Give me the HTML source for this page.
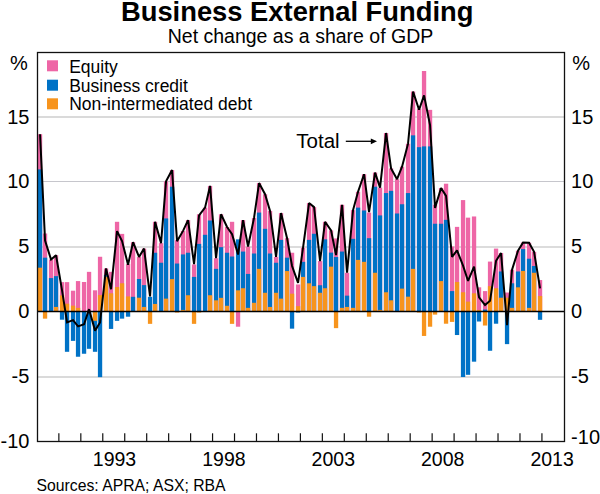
<!DOCTYPE html>
<html><head><meta charset="utf-8"><style>
html,body{margin:0;padding:0;background:#fff;}
body{width:600px;height:494px;overflow:hidden;font-family:"Liberation Sans",sans-serif;}
svg{display:block;}
</style></head><body>
<svg width="600" height="494" viewBox="0 0 600 494">
<rect width="600" height="494" fill="#fff"/>
<rect x="37.5" y="116" width="527.00" height="2" fill="#dadada"/>
<rect x="37.5" y="181" width="527.00" height="1" fill="#c6c6cc"/>
<rect x="37.5" y="246" width="527.00" height="2" fill="#dcdcdc"/>
<rect x="37.5" y="376" width="527.00" height="2" fill="#dadada"/>
<rect x="37.90" y="134.18" width="4.3" height="177.32" fill="#EE66A6"/>
<rect x="37.90" y="169.41" width="4.3" height="142.09" fill="#0072C6"/>
<rect x="37.90" y="267.69" width="4.3" height="43.81" fill="#F7941D"/>
<rect x="42.90" y="233.50" width="4.3" height="78.00" fill="#EE66A6"/>
<rect x="42.90" y="257.68" width="4.3" height="53.82" fill="#0072C6"/>
<rect x="42.90" y="311.5" width="4.3" height="7.15" fill="#F7941D"/>
<rect x="48.90" y="259.50" width="4.3" height="52.00" fill="#EE66A6"/>
<rect x="48.90" y="278.09" width="4.3" height="33.41" fill="#0072C6"/>
<rect x="53.90" y="255.21" width="4.3" height="56.29" fill="#EE66A6"/>
<rect x="53.90" y="276.14" width="4.3" height="35.36" fill="#0072C6"/>
<rect x="53.90" y="306.95" width="4.3" height="4.55" fill="#F7941D"/>
<rect x="59.90" y="282.12" width="4.3" height="29.38" fill="#EE66A6"/>
<rect x="59.90" y="295.38" width="4.3" height="16.12" fill="#F7941D"/>
<rect x="59.90" y="311.5" width="4.3" height="8.19" fill="#0072C6"/>
<rect x="64.90" y="282.12" width="4.3" height="29.38" fill="#EE66A6"/>
<rect x="64.90" y="303.70" width="4.3" height="7.80" fill="#F7941D"/>
<rect x="64.90" y="311.5" width="4.3" height="40.30" fill="#0072C6"/>
<rect x="70.90" y="290.70" width="4.3" height="20.80" fill="#EE66A6"/>
<rect x="70.90" y="305.65" width="4.3" height="5.85" fill="#F7941D"/>
<rect x="70.90" y="311.5" width="4.3" height="29.38" fill="#0072C6"/>
<rect x="75.90" y="281.08" width="4.3" height="30.42" fill="#EE66A6"/>
<rect x="75.90" y="307.86" width="4.3" height="3.64" fill="#F7941D"/>
<rect x="75.90" y="311.5" width="4.3" height="45.24" fill="#0072C6"/>
<rect x="81.90" y="281.99" width="4.3" height="29.51" fill="#EE66A6"/>
<rect x="81.90" y="311.5" width="4.3" height="42.25" fill="#0072C6"/>
<rect x="86.90" y="271.85" width="4.3" height="39.65" fill="#EE66A6"/>
<rect x="86.90" y="311.5" width="4.3" height="37.31" fill="#0072C6"/>
<rect x="92.90" y="290.31" width="4.3" height="21.19" fill="#EE66A6"/>
<rect x="92.90" y="311.5" width="4.3" height="40.30" fill="#0072C6"/>
<rect x="92.90" y="311.5" width="4.3" height="9.36" fill="#F7941D"/>
<rect x="97.90" y="256.77" width="4.3" height="54.73" fill="#EE66A6"/>
<rect x="97.90" y="295.12" width="4.3" height="16.38" fill="#F7941D"/>
<rect x="97.90" y="311.5" width="4.3" height="65.65" fill="#0072C6"/>
<rect x="103.90" y="268.47" width="4.3" height="43.03" fill="#EE66A6"/>
<rect x="103.90" y="274.97" width="4.3" height="36.53" fill="#0072C6"/>
<rect x="103.90" y="276.79" width="4.3" height="34.71" fill="#F7941D"/>
<rect x="108.90" y="271.85" width="4.3" height="39.65" fill="#EE66A6"/>
<rect x="108.90" y="293.30" width="4.3" height="18.20" fill="#F7941D"/>
<rect x="108.90" y="311.5" width="4.3" height="17.42" fill="#0072C6"/>
<rect x="114.90" y="221.80" width="4.3" height="89.70" fill="#EE66A6"/>
<rect x="114.90" y="287.06" width="4.3" height="24.44" fill="#F7941D"/>
<rect x="114.90" y="311.5" width="4.3" height="9.36" fill="#0072C6"/>
<rect x="119.90" y="233.89" width="4.3" height="77.61" fill="#EE66A6"/>
<rect x="119.90" y="283.29" width="4.3" height="28.21" fill="#F7941D"/>
<rect x="119.90" y="311.5" width="4.3" height="7.15" fill="#0072C6"/>
<rect x="125.90" y="264.05" width="4.3" height="47.45" fill="#EE66A6"/>
<rect x="125.90" y="296.42" width="4.3" height="15.08" fill="#F7941D"/>
<rect x="125.90" y="311.5" width="4.3" height="5.20" fill="#0072C6"/>
<rect x="130.90" y="242.21" width="4.3" height="69.29" fill="#EE66A6"/>
<rect x="130.90" y="296.81" width="4.3" height="14.69" fill="#0072C6"/>
<rect x="136.90" y="256.90" width="4.3" height="54.60" fill="#EE66A6"/>
<rect x="136.90" y="279.00" width="4.3" height="32.50" fill="#0072C6"/>
<rect x="136.90" y="297.72" width="4.3" height="13.78" fill="#F7941D"/>
<rect x="141.90" y="248.58" width="4.3" height="62.92" fill="#EE66A6"/>
<rect x="141.90" y="285.11" width="4.3" height="26.39" fill="#0072C6"/>
<rect x="141.90" y="306.95" width="4.3" height="4.55" fill="#F7941D"/>
<rect x="147.90" y="296.81" width="4.3" height="14.69" fill="#0072C6"/>
<rect x="147.90" y="311.5" width="4.3" height="12.35" fill="#F7941D"/>
<rect x="152.90" y="221.80" width="4.3" height="89.70" fill="#EE66A6"/>
<rect x="152.90" y="252.74" width="4.3" height="58.76" fill="#0072C6"/>
<rect x="152.90" y="303.96" width="4.3" height="7.54" fill="#F7941D"/>
<rect x="158.90" y="243.12" width="4.3" height="68.38" fill="#EE66A6"/>
<rect x="158.90" y="262.75" width="4.3" height="48.75" fill="#0072C6"/>
<rect x="163.90" y="181.37" width="4.3" height="130.13" fill="#EE66A6"/>
<rect x="163.90" y="218.42" width="4.3" height="93.08" fill="#0072C6"/>
<rect x="163.90" y="298.63" width="4.3" height="12.87" fill="#F7941D"/>
<rect x="169.90" y="170.06" width="4.3" height="141.44" fill="#EE66A6"/>
<rect x="169.90" y="186.70" width="4.3" height="124.80" fill="#0072C6"/>
<rect x="169.90" y="279.13" width="4.3" height="32.37" fill="#F7941D"/>
<rect x="174.90" y="240.13" width="4.3" height="71.37" fill="#EE66A6"/>
<rect x="174.90" y="263.53" width="4.3" height="47.97" fill="#0072C6"/>
<rect x="174.90" y="311.5" width="4.3" height="1.04" fill="#F7941D"/>
<rect x="180.90" y="230.90" width="4.3" height="80.60" fill="#EE66A6"/>
<rect x="180.90" y="254.43" width="4.3" height="57.07" fill="#0072C6"/>
<rect x="180.90" y="309.94" width="4.3" height="1.56" fill="#F7941D"/>
<rect x="185.90" y="220.11" width="4.3" height="91.39" fill="#EE66A6"/>
<rect x="185.90" y="252.74" width="4.3" height="58.76" fill="#0072C6"/>
<rect x="185.90" y="295.25" width="4.3" height="16.25" fill="#F7941D"/>
<rect x="191.90" y="264.44" width="4.3" height="47.06" fill="#EE66A6"/>
<rect x="191.90" y="276.92" width="4.3" height="34.58" fill="#0072C6"/>
<rect x="191.90" y="311.5" width="4.3" height="12.35" fill="#F7941D"/>
<rect x="196.90" y="214.26" width="4.3" height="97.24" fill="#EE66A6"/>
<rect x="196.90" y="243.90" width="4.3" height="67.60" fill="#0072C6"/>
<rect x="196.90" y="311.5" width="4.3" height="1.04" fill="#F7941D"/>
<rect x="202.90" y="207.63" width="4.3" height="103.87" fill="#EE66A6"/>
<rect x="202.90" y="234.80" width="4.3" height="76.70" fill="#0072C6"/>
<rect x="207.90" y="185.92" width="4.3" height="125.58" fill="#EE66A6"/>
<rect x="207.90" y="220.50" width="4.3" height="91.00" fill="#0072C6"/>
<rect x="207.90" y="295.25" width="4.3" height="16.25" fill="#F7941D"/>
<rect x="213.90" y="258.20" width="4.3" height="53.30" fill="#EE66A6"/>
<rect x="213.90" y="268.86" width="4.3" height="42.64" fill="#0072C6"/>
<rect x="213.90" y="300.32" width="4.3" height="11.18" fill="#F7941D"/>
<rect x="218.90" y="214.26" width="4.3" height="97.24" fill="#EE66A6"/>
<rect x="218.90" y="247.15" width="4.3" height="64.35" fill="#0072C6"/>
<rect x="218.90" y="297.85" width="4.3" height="13.65" fill="#F7941D"/>
<rect x="224.90" y="227.00" width="4.3" height="84.50" fill="#EE66A6"/>
<rect x="224.90" y="252.74" width="4.3" height="58.76" fill="#0072C6"/>
<rect x="224.90" y="305.78" width="4.3" height="5.72" fill="#F7941D"/>
<rect x="229.90" y="221.80" width="4.3" height="89.70" fill="#EE66A6"/>
<rect x="229.90" y="256.51" width="4.3" height="54.99" fill="#0072C6"/>
<rect x="229.90" y="311.5" width="4.3" height="12.35" fill="#F7941D"/>
<rect x="235.90" y="239.35" width="4.3" height="72.15" fill="#0072C6"/>
<rect x="235.90" y="290.31" width="4.3" height="21.19" fill="#F7941D"/>
<rect x="235.90" y="311.5" width="4.3" height="15.21" fill="#EE66A6"/>
<rect x="240.90" y="220.11" width="4.3" height="91.39" fill="#EE66A6"/>
<rect x="240.90" y="251.57" width="4.3" height="59.93" fill="#0072C6"/>
<rect x="240.90" y="288.23" width="4.3" height="23.27" fill="#F7941D"/>
<rect x="245.90" y="246.50" width="4.3" height="65.00" fill="#EE66A6"/>
<rect x="245.90" y="273.93" width="4.3" height="37.57" fill="#0072C6"/>
<rect x="245.90" y="307.86" width="4.3" height="3.64" fill="#F7941D"/>
<rect x="251.90" y="217.90" width="4.3" height="93.60" fill="#EE66A6"/>
<rect x="251.90" y="253.52" width="4.3" height="57.98" fill="#0072C6"/>
<rect x="251.90" y="302.79" width="4.3" height="8.71" fill="#F7941D"/>
<rect x="256.90" y="183.06" width="4.3" height="128.44" fill="#EE66A6"/>
<rect x="256.90" y="212.57" width="4.3" height="98.93" fill="#0072C6"/>
<rect x="256.90" y="268.86" width="4.3" height="42.64" fill="#F7941D"/>
<rect x="262.90" y="194.24" width="4.3" height="117.26" fill="#EE66A6"/>
<rect x="262.90" y="228.82" width="4.3" height="82.68" fill="#0072C6"/>
<rect x="262.90" y="292.78" width="4.3" height="18.72" fill="#F7941D"/>
<rect x="267.90" y="210.88" width="4.3" height="100.62" fill="#EE66A6"/>
<rect x="267.90" y="253.52" width="4.3" height="57.98" fill="#0072C6"/>
<rect x="267.90" y="306.95" width="4.3" height="4.55" fill="#F7941D"/>
<rect x="273.90" y="256.90" width="4.3" height="54.60" fill="#EE66A6"/>
<rect x="273.90" y="262.75" width="4.3" height="48.75" fill="#0072C6"/>
<rect x="273.90" y="292.78" width="4.3" height="18.72" fill="#F7941D"/>
<rect x="278.90" y="213.09" width="4.3" height="98.41" fill="#EE66A6"/>
<rect x="278.90" y="239.87" width="4.3" height="71.63" fill="#0072C6"/>
<rect x="278.90" y="298.63" width="4.3" height="12.87" fill="#F7941D"/>
<rect x="284.90" y="238.18" width="4.3" height="73.32" fill="#EE66A6"/>
<rect x="284.90" y="257.68" width="4.3" height="53.82" fill="#0072C6"/>
<rect x="284.90" y="271.07" width="4.3" height="40.43" fill="#F7941D"/>
<rect x="289.90" y="252.74" width="4.3" height="58.76" fill="#EE66A6"/>
<rect x="289.90" y="293.69" width="4.3" height="17.81" fill="#F7941D"/>
<rect x="289.90" y="311.5" width="4.3" height="17.16" fill="#0072C6"/>
<rect x="295.90" y="284.46" width="4.3" height="27.04" fill="#EE66A6"/>
<rect x="295.90" y="306.17" width="4.3" height="5.33" fill="#F7941D"/>
<rect x="295.90" y="311.5" width="4.3" height="1.04" fill="#0072C6"/>
<rect x="300.90" y="247.67" width="4.3" height="63.83" fill="#EE66A6"/>
<rect x="300.90" y="261.84" width="4.3" height="49.66" fill="#0072C6"/>
<rect x="300.90" y="276.92" width="4.3" height="34.58" fill="#F7941D"/>
<rect x="306.90" y="203.08" width="4.3" height="108.42" fill="#EE66A6"/>
<rect x="306.90" y="239.87" width="4.3" height="71.63" fill="#0072C6"/>
<rect x="306.90" y="283.29" width="4.3" height="28.21" fill="#F7941D"/>
<rect x="311.90" y="207.11" width="4.3" height="104.39" fill="#EE66A6"/>
<rect x="311.90" y="233.76" width="4.3" height="77.74" fill="#0072C6"/>
<rect x="311.90" y="286.15" width="4.3" height="25.35" fill="#F7941D"/>
<rect x="317.90" y="261.06" width="4.3" height="50.44" fill="#EE66A6"/>
<rect x="317.90" y="285.24" width="4.3" height="26.26" fill="#0072C6"/>
<rect x="317.90" y="292.78" width="4.3" height="18.72" fill="#F7941D"/>
<rect x="322.90" y="221.80" width="4.3" height="89.70" fill="#EE66A6"/>
<rect x="322.90" y="239.35" width="4.3" height="72.15" fill="#0072C6"/>
<rect x="322.90" y="288.23" width="4.3" height="23.27" fill="#F7941D"/>
<rect x="328.90" y="230.38" width="4.3" height="81.12" fill="#EE66A6"/>
<rect x="328.90" y="252.61" width="4.3" height="58.89" fill="#0072C6"/>
<rect x="328.90" y="266.65" width="4.3" height="44.85" fill="#F7941D"/>
<rect x="333.90" y="238.44" width="4.3" height="73.06" fill="#EE66A6"/>
<rect x="333.90" y="257.03" width="4.3" height="54.47" fill="#0072C6"/>
<rect x="333.90" y="311.5" width="4.3" height="16.64" fill="#F7941D"/>
<rect x="339.90" y="204.77" width="4.3" height="106.73" fill="#EE66A6"/>
<rect x="339.90" y="251.57" width="4.3" height="59.93" fill="#0072C6"/>
<rect x="339.90" y="307.86" width="4.3" height="3.64" fill="#F7941D"/>
<rect x="344.90" y="272.76" width="4.3" height="38.74" fill="#EE66A6"/>
<rect x="344.90" y="295.64" width="4.3" height="15.86" fill="#0072C6"/>
<rect x="344.90" y="306.95" width="4.3" height="4.55" fill="#F7941D"/>
<rect x="350.90" y="210.10" width="4.3" height="101.40" fill="#EE66A6"/>
<rect x="350.90" y="238.83" width="4.3" height="72.67" fill="#0072C6"/>
<rect x="350.90" y="307.86" width="4.3" height="3.64" fill="#F7941D"/>
<rect x="355.90" y="191.77" width="4.3" height="119.73" fill="#EE66A6"/>
<rect x="355.90" y="207.63" width="4.3" height="103.87" fill="#0072C6"/>
<rect x="355.90" y="259.89" width="4.3" height="51.61" fill="#F7941D"/>
<rect x="361.90" y="174.22" width="4.3" height="137.28" fill="#EE66A6"/>
<rect x="361.90" y="210.49" width="4.3" height="101.01" fill="#0072C6"/>
<rect x="361.90" y="261.84" width="4.3" height="49.66" fill="#F7941D"/>
<rect x="366.90" y="212.57" width="4.3" height="98.93" fill="#EE66A6"/>
<rect x="366.90" y="238.18" width="4.3" height="73.32" fill="#0072C6"/>
<rect x="366.90" y="311.5" width="4.3" height="5.20" fill="#F7941D"/>
<rect x="372.90" y="172.53" width="4.3" height="138.97" fill="#EE66A6"/>
<rect x="372.90" y="186.70" width="4.3" height="124.80" fill="#0072C6"/>
<rect x="372.90" y="272.76" width="4.3" height="38.74" fill="#F7941D"/>
<rect x="377.90" y="187.61" width="4.3" height="123.89" fill="#EE66A6"/>
<rect x="377.90" y="215.43" width="4.3" height="96.07" fill="#0072C6"/>
<rect x="377.90" y="309.94" width="4.3" height="1.56" fill="#F7941D"/>
<rect x="383.90" y="133.01" width="4.3" height="178.49" fill="#EE66A6"/>
<rect x="383.90" y="193.07" width="4.3" height="118.43" fill="#0072C6"/>
<rect x="383.90" y="292.26" width="4.3" height="19.24" fill="#F7941D"/>
<rect x="388.90" y="168.37" width="4.3" height="143.13" fill="#EE66A6"/>
<rect x="388.90" y="190.86" width="4.3" height="120.64" fill="#0072C6"/>
<rect x="388.90" y="300.32" width="4.3" height="11.18" fill="#F7941D"/>
<rect x="394.90" y="179.16" width="4.3" height="132.34" fill="#EE66A6"/>
<rect x="394.90" y="213.48" width="4.3" height="98.02" fill="#0072C6"/>
<rect x="399.90" y="166.68" width="4.3" height="144.82" fill="#EE66A6"/>
<rect x="399.90" y="204.25" width="4.3" height="107.25" fill="#0072C6"/>
<rect x="399.90" y="288.62" width="4.3" height="22.88" fill="#F7941D"/>
<rect x="405.90" y="143.67" width="4.3" height="167.83" fill="#EE66A6"/>
<rect x="405.90" y="193.07" width="4.3" height="118.43" fill="#0072C6"/>
<rect x="405.90" y="296.68" width="4.3" height="14.82" fill="#F7941D"/>
<rect x="410.90" y="91.54" width="4.3" height="219.96" fill="#EE66A6"/>
<rect x="410.90" y="135.35" width="4.3" height="176.15" fill="#0072C6"/>
<rect x="410.90" y="268.86" width="4.3" height="42.64" fill="#F7941D"/>
<rect x="416.90" y="108.70" width="4.3" height="202.80" fill="#EE66A6"/>
<rect x="416.90" y="147.18" width="4.3" height="164.32" fill="#0072C6"/>
<rect x="416.90" y="311.5" width="4.3" height="1.04" fill="#F7941D"/>
<rect x="421.90" y="71.00" width="4.3" height="240.50" fill="#EE66A6"/>
<rect x="421.90" y="146.40" width="4.3" height="165.10" fill="#0072C6"/>
<rect x="421.90" y="311.5" width="4.3" height="24.44" fill="#F7941D"/>
<rect x="427.90" y="109.87" width="4.3" height="201.63" fill="#EE66A6"/>
<rect x="427.90" y="146.40" width="4.3" height="165.10" fill="#0072C6"/>
<rect x="427.90" y="311.5" width="4.3" height="15.21" fill="#F7941D"/>
<rect x="432.90" y="204.77" width="4.3" height="106.73" fill="#EE66A6"/>
<rect x="432.90" y="223.75" width="4.3" height="87.75" fill="#0072C6"/>
<rect x="432.90" y="311.5" width="4.3" height="3.12" fill="#F7941D"/>
<rect x="438.90" y="188.00" width="4.3" height="123.50" fill="#EE66A6"/>
<rect x="438.90" y="223.75" width="4.3" height="87.75" fill="#0072C6"/>
<rect x="438.90" y="281.08" width="4.3" height="30.42" fill="#F7941D"/>
<rect x="443.90" y="183.71" width="4.3" height="127.79" fill="#EE66A6"/>
<rect x="443.90" y="219.85" width="4.3" height="91.65" fill="#0072C6"/>
<rect x="443.90" y="311.5" width="4.3" height="12.22" fill="#F7941D"/>
<rect x="449.90" y="246.50" width="4.3" height="65.00" fill="#EE66A6"/>
<rect x="449.90" y="291.09" width="4.3" height="20.41" fill="#0072C6"/>
<rect x="449.90" y="311.5" width="4.3" height="10.40" fill="#F7941D"/>
<rect x="454.90" y="226.87" width="4.3" height="84.63" fill="#EE66A6"/>
<rect x="454.90" y="281.99" width="4.3" height="29.51" fill="#F7941D"/>
<rect x="454.90" y="311.5" width="4.3" height="23.53" fill="#0072C6"/>
<rect x="460.90" y="200.09" width="4.3" height="111.41" fill="#EE66A6"/>
<rect x="460.90" y="292.26" width="4.3" height="19.24" fill="#F7941D"/>
<rect x="460.90" y="311.5" width="4.3" height="65.52" fill="#0072C6"/>
<rect x="465.90" y="217.64" width="4.3" height="93.86" fill="#EE66A6"/>
<rect x="465.90" y="301.62" width="4.3" height="9.88" fill="#F7941D"/>
<rect x="465.90" y="311.5" width="4.3" height="63.31" fill="#0072C6"/>
<rect x="471.90" y="216.47" width="4.3" height="95.03" fill="#EE66A6"/>
<rect x="471.90" y="293.30" width="4.3" height="18.20" fill="#F7941D"/>
<rect x="471.90" y="311.5" width="4.3" height="50.18" fill="#0072C6"/>
<rect x="476.90" y="287.32" width="4.3" height="24.18" fill="#EE66A6"/>
<rect x="476.90" y="309.94" width="4.3" height="1.56" fill="#F7941D"/>
<rect x="476.90" y="311.5" width="4.3" height="10.01" fill="#0072C6"/>
<rect x="482.90" y="291.09" width="4.3" height="20.41" fill="#EE66A6"/>
<rect x="482.90" y="309.55" width="4.3" height="1.95" fill="#0072C6"/>
<rect x="482.90" y="311.5" width="4.3" height="14.04" fill="#F7941D"/>
<rect x="487.90" y="261.58" width="4.3" height="49.92" fill="#EE66A6"/>
<rect x="487.90" y="286.15" width="4.3" height="25.35" fill="#F7941D"/>
<rect x="487.90" y="311.5" width="4.3" height="39.26" fill="#0072C6"/>
<rect x="493.90" y="248.58" width="4.3" height="62.92" fill="#EE66A6"/>
<rect x="493.90" y="288.23" width="4.3" height="23.27" fill="#F7941D"/>
<rect x="493.90" y="311.5" width="4.3" height="12.22" fill="#0072C6"/>
<rect x="498.90" y="253.00" width="4.3" height="58.50" fill="#EE66A6"/>
<rect x="498.90" y="271.46" width="4.3" height="40.04" fill="#0072C6"/>
<rect x="498.90" y="297.72" width="4.3" height="13.78" fill="#F7941D"/>
<rect x="504.90" y="292.52" width="4.3" height="18.98" fill="#EE66A6"/>
<rect x="504.90" y="297.72" width="4.3" height="13.78" fill="#F7941D"/>
<rect x="504.90" y="311.5" width="4.3" height="32.63" fill="#0072C6"/>
<rect x="509.90" y="269.77" width="4.3" height="41.73" fill="#EE66A6"/>
<rect x="509.90" y="283.29" width="4.3" height="28.21" fill="#0072C6"/>
<rect x="509.90" y="307.86" width="4.3" height="3.64" fill="#F7941D"/>
<rect x="515.90" y="250.66" width="4.3" height="60.84" fill="#EE66A6"/>
<rect x="515.90" y="271.46" width="4.3" height="40.04" fill="#0072C6"/>
<rect x="515.90" y="287.32" width="4.3" height="24.18" fill="#F7941D"/>
<rect x="520.90" y="242.47" width="4.3" height="69.03" fill="#EE66A6"/>
<rect x="520.90" y="249.10" width="4.3" height="62.40" fill="#0072C6"/>
<rect x="520.90" y="270.94" width="4.3" height="40.56" fill="#F7941D"/>
<rect x="526.90" y="242.73" width="4.3" height="68.77" fill="#EE66A6"/>
<rect x="526.90" y="258.72" width="4.3" height="52.78" fill="#0072C6"/>
<rect x="526.90" y="307.86" width="4.3" height="3.64" fill="#F7941D"/>
<rect x="531.90" y="251.83" width="4.3" height="59.67" fill="#EE66A6"/>
<rect x="531.90" y="266.00" width="4.3" height="45.50" fill="#0072C6"/>
<rect x="531.90" y="272.76" width="4.3" height="38.74" fill="#F7941D"/>
<rect x="537.90" y="280.04" width="4.3" height="31.46" fill="#EE66A6"/>
<rect x="537.90" y="296.03" width="4.3" height="15.47" fill="#F7941D"/>
<rect x="537.90" y="311.5" width="4.3" height="8.32" fill="#0072C6"/>
<line x1="37.5" y1="311.5" x2="564.5" y2="311.5" stroke="#000" stroke-width="1.4"/>
<polyline points="40.05,134.18 45.05,240.65 51.05,259.50 56.05,255.21 62.05,290.31 67.05,322.42 73.05,320.08 78.05,326.32 84.05,324.24 89.05,309.16 95.05,330.61 100.05,322.42 106.05,268.47 111.05,289.27 117.05,231.16 122.05,241.04 128.05,264.70 133.05,242.21 139.05,256.90 144.05,248.58 150.05,296.42 155.05,221.80 161.05,243.12 166.05,181.37 172.05,170.06 177.05,241.17 183.05,230.90 188.05,220.11 194.05,264.05 199.05,215.30 205.05,207.63 210.05,185.92 216.05,258.20 221.05,214.26 227.05,227.00 232.05,234.15 238.05,254.56 243.05,220.11 248.05,246.50 254.05,217.90 259.05,183.06 265.05,194.24 270.05,210.88 276.05,256.90 281.05,213.09 287.05,238.18 292.05,266.00 298.05,282.90 303.05,247.67 309.05,203.08 314.05,207.11 320.05,261.06 325.05,221.80 331.05,230.38 336.05,255.08 342.05,204.77 347.05,272.76 353.05,210.10 358.05,191.77 364.05,174.22 369.05,212.05 375.05,172.53 380.05,187.61 386.05,133.01 391.05,168.37 397.05,179.16 402.05,166.68 408.05,143.67 413.05,91.54 419.05,109.74 424.05,95.44 430.05,125.08 435.05,207.89 441.05,188.00 446.05,195.93 452.05,256.90 457.05,250.40 463.05,265.61 468.05,280.95 474.05,266.65 479.05,297.33 485.05,305.13 490.05,300.84 496.05,260.80 501.05,253.00 507.05,325.15 512.05,269.77 518.05,250.66 523.05,242.47 529.05,242.73 534.05,251.83 540.05,288.36" fill="none" stroke="#000" stroke-width="2.0" stroke-linejoin="miter" stroke-miterlimit="2"/>
<rect x="37.5" y="52.5" width="527.00" height="389.00" fill="none" stroke="#111" stroke-width="1.3"/>
<line x1="58.86" y1="433.30" x2="58.86" y2="441.5" stroke="#111" stroke-width="1.2"/>
<line x1="80.82" y1="433.30" x2="80.82" y2="441.5" stroke="#111" stroke-width="1.2"/>
<line x1="102.77" y1="433.30" x2="102.77" y2="441.5" stroke="#111" stroke-width="1.2"/>
<line x1="124.73" y1="433.30" x2="124.73" y2="441.5" stroke="#111" stroke-width="1.2"/>
<line x1="146.69" y1="433.30" x2="146.69" y2="441.5" stroke="#111" stroke-width="1.2"/>
<line x1="168.65" y1="433.30" x2="168.65" y2="441.5" stroke="#111" stroke-width="1.2"/>
<line x1="190.61" y1="433.30" x2="190.61" y2="441.5" stroke="#111" stroke-width="1.2"/>
<line x1="212.56" y1="433.30" x2="212.56" y2="441.5" stroke="#111" stroke-width="1.2"/>
<line x1="234.52" y1="433.30" x2="234.52" y2="441.5" stroke="#111" stroke-width="1.2"/>
<line x1="256.48" y1="433.30" x2="256.48" y2="441.5" stroke="#111" stroke-width="1.2"/>
<line x1="278.44" y1="433.30" x2="278.44" y2="441.5" stroke="#111" stroke-width="1.2"/>
<line x1="300.40" y1="433.30" x2="300.40" y2="441.5" stroke="#111" stroke-width="1.2"/>
<line x1="322.35" y1="433.30" x2="322.35" y2="441.5" stroke="#111" stroke-width="1.2"/>
<line x1="344.31" y1="433.30" x2="344.31" y2="441.5" stroke="#111" stroke-width="1.2"/>
<line x1="366.27" y1="433.30" x2="366.27" y2="441.5" stroke="#111" stroke-width="1.2"/>
<line x1="388.23" y1="433.30" x2="388.23" y2="441.5" stroke="#111" stroke-width="1.2"/>
<line x1="410.19" y1="433.30" x2="410.19" y2="441.5" stroke="#111" stroke-width="1.2"/>
<line x1="432.14" y1="433.30" x2="432.14" y2="441.5" stroke="#111" stroke-width="1.2"/>
<line x1="454.10" y1="433.30" x2="454.10" y2="441.5" stroke="#111" stroke-width="1.2"/>
<line x1="476.06" y1="433.30" x2="476.06" y2="441.5" stroke="#111" stroke-width="1.2"/>
<line x1="498.02" y1="433.30" x2="498.02" y2="441.5" stroke="#111" stroke-width="1.2"/>
<line x1="519.98" y1="433.30" x2="519.98" y2="441.5" stroke="#111" stroke-width="1.2"/>
<line x1="541.93" y1="433.30" x2="541.93" y2="441.5" stroke="#111" stroke-width="1.2"/>
<text x="297.2" y="20.8" text-anchor="middle" font-family="Liberation Sans, sans-serif" font-weight="bold" font-size="27.35">Business External Funding</text>
<text x="300.5" y="42.7" text-anchor="middle" font-family="Liberation Sans, sans-serif" font-size="19.5">Net change as a share of GDP</text>
<rect x="47" y="60.3" width="11" height="11" fill="#EE66A6"/>
<text x="69.2" y="72.8" font-family="Liberation Sans, sans-serif" font-size="17.5">Equity</text>
<rect x="47" y="79.7" width="11" height="11" fill="#0072C6"/>
<text x="69.2" y="92.0" font-family="Liberation Sans, sans-serif" font-size="17.5">Business credit</text>
<rect x="47" y="98.3" width="11" height="11" fill="#F7941D"/>
<text x="69.2" y="110.3" font-family="Liberation Sans, sans-serif" font-size="17.5">Non-intermediated debt</text>
<text x="29.4" y="123.80" text-anchor="end" font-family="Liberation Sans, sans-serif" font-size="20">15</text>
<text x="571.1" y="123.80" font-family="Liberation Sans, sans-serif" font-size="20">15</text>
<text x="29.4" y="188.00" text-anchor="end" font-family="Liberation Sans, sans-serif" font-size="20">10</text>
<text x="571.1" y="188.00" font-family="Liberation Sans, sans-serif" font-size="20">10</text>
<text x="29.4" y="252.70" text-anchor="end" font-family="Liberation Sans, sans-serif" font-size="20">5</text>
<text x="571.1" y="252.70" font-family="Liberation Sans, sans-serif" font-size="20">5</text>
<text x="29.4" y="317.80" text-anchor="end" font-family="Liberation Sans, sans-serif" font-size="20">0</text>
<text x="571.1" y="317.80" font-family="Liberation Sans, sans-serif" font-size="20">0</text>
<text x="29.4" y="382.60" text-anchor="end" font-family="Liberation Sans, sans-serif" font-size="20">-5</text>
<text x="571.1" y="382.60" font-family="Liberation Sans, sans-serif" font-size="20">-5</text>
<text x="29.4" y="448.00" text-anchor="end" font-family="Liberation Sans, sans-serif" font-size="20">-10</text>
<text x="571.1" y="443.80" font-family="Liberation Sans, sans-serif" font-size="20">-10</text>
<text x="10" y="69.8" font-family="Liberation Sans, sans-serif" font-size="20">%</text>
<text x="572.3" y="69.8" font-family="Liberation Sans, sans-serif" font-size="20">%</text>
<text x="114.50" y="466.2" text-anchor="middle" font-family="Liberation Sans, sans-serif" font-size="19.5">1993</text>
<text x="223.90" y="466.2" text-anchor="middle" font-family="Liberation Sans, sans-serif" font-size="19.5">1998</text>
<text x="333.30" y="466.2" text-anchor="middle" font-family="Liberation Sans, sans-serif" font-size="19.5">2003</text>
<text x="442.70" y="466.2" text-anchor="middle" font-family="Liberation Sans, sans-serif" font-size="19.5">2008</text>
<text x="552.10" y="466.2" text-anchor="middle" font-family="Liberation Sans, sans-serif" font-size="19.5">2013</text>
<text x="36.5" y="490.7" font-family="Liberation Sans, sans-serif" font-size="15.75">Sources: APRA; ASX; RBA</text>
<text x="296.3" y="147.8" font-family="Liberation Sans, sans-serif" font-size="20.5">Total</text>
<line x1="345.8" y1="141.3" x2="372" y2="141.3" stroke="#000" stroke-width="1.3"/>
<polygon points="370.8,138.4 377,141.3 370.8,144.2" fill="#000"/>
</svg>
</body></html>
